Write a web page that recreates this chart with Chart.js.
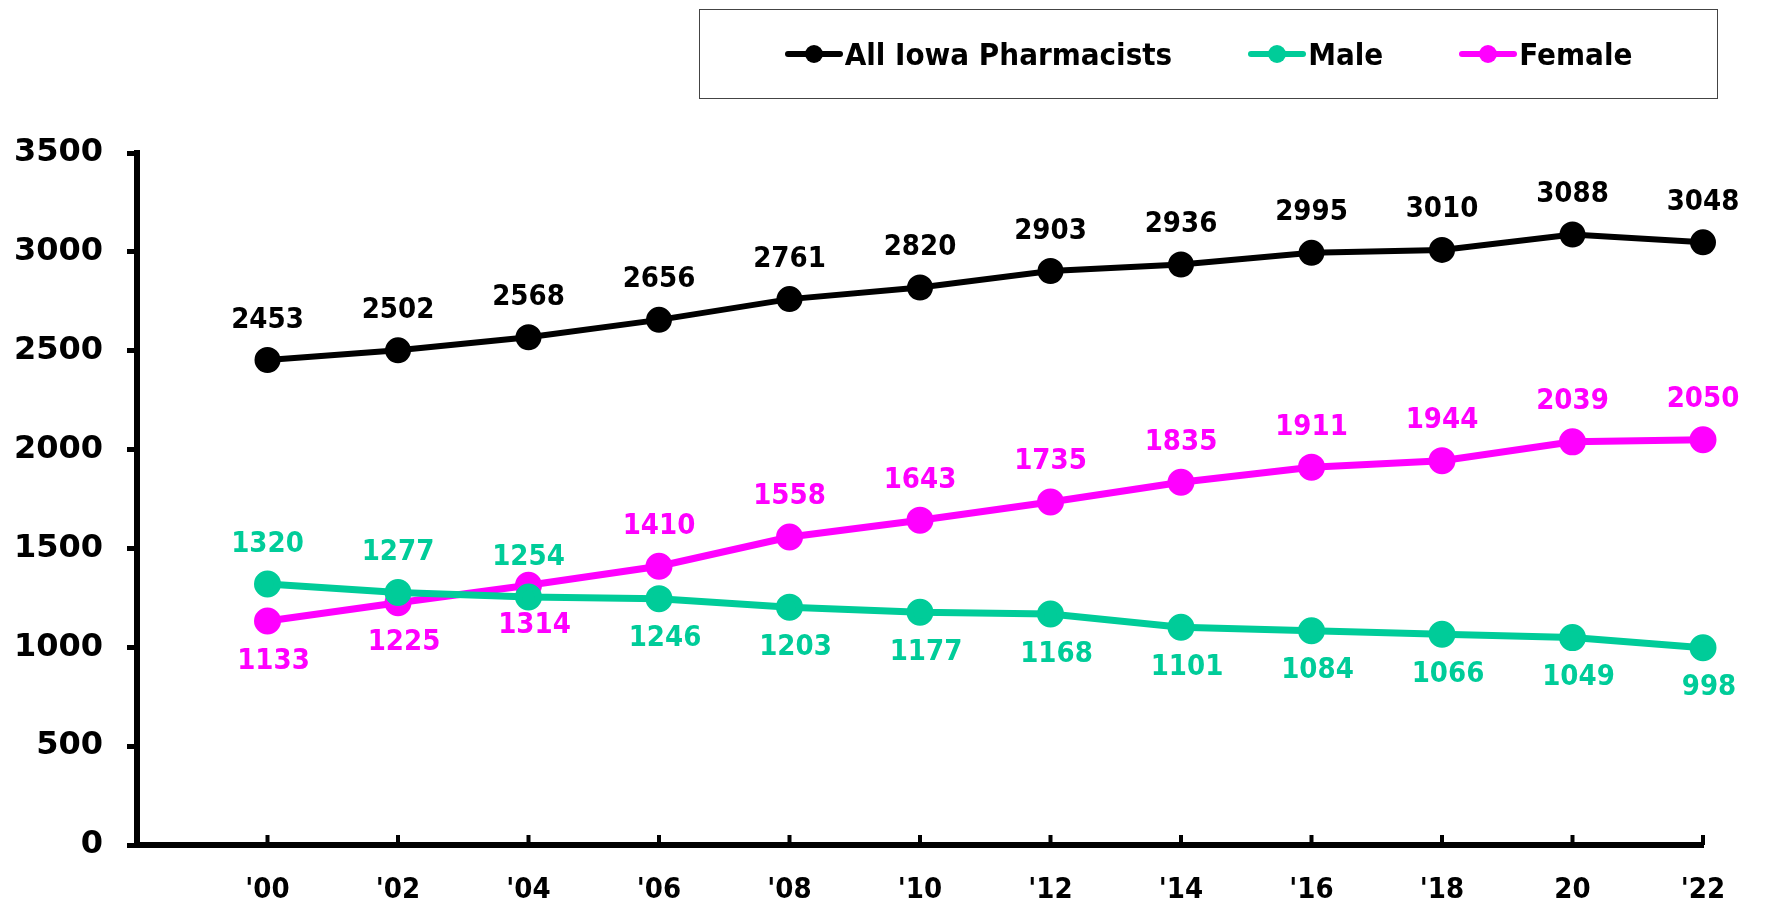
<!DOCTYPE html>
<html>
<head>
<meta charset="utf-8">
<script src="https://cdn.jsdelivr.net/npm/chart.js@4.4.0/dist/chart.umd.min.js"></script>
<style>
    html, body { margin: 0; padding: 0; background: #fff; }
    #wrap { position: relative; width: 1765px; height: 901px; }
    #legend {
        position: absolute; left: 699px; top: 9px; width: 1017px; height: 88px;
        border: 1px solid #444; display: flex; align-items: center; justify-content: center;
        font-family: "DejaVu Sans Condensed", "DejaVu Sans", sans-serif; font-weight: bold; font-size: 31px;
    }
    .item { display: flex; align-items: center; margin: 0 38px; }
    .mark { position: relative; width: 58px; height: 20px; margin-right: 2px; }
    .mark .ln { position: absolute; left: 0; right: 0; top: 7px; height: 6px; border-radius: 3px; }
    .mark .dot { position: absolute; left: 20px; top: 1px; width: 18px; height: 18px; border-radius: 50%; }
</style>
</head>
<body>
<div id="wrap">
    <canvas id="chart" width="1765" height="901"></canvas>
    <div id="legend"></div>
</div>
<script>
const years = ['', "'00", "'02", "'04", "'06", "'08", "'10", "'12", "'14", "'16", "'18", "20", "'22"];
const allPharmacists = [null, 2453, 2502, 2568, 2656, 2761, 2820, 2903, 2936, 2995, 3010, 3088, 3048];
const male = [null, 1320, 1277, 1254, 1246, 1203, 1177, 1168, 1101, 1084, 1066, 1049, 998];
const female = [null, 1133, 1225, 1314, 1410, 1558, 1643, 1735, 1835, 1911, 1944, 2039, 2050];
const yTicks = [0, 500, 1000, 1500, 2000, 2500, 3000, 3500];

// which side of the point each series' value labels go ('up' / 'down')
const maleLabelSide = ['', 'up', 'up', 'up', 'down', 'down', 'down', 'down', 'down', 'down', 'down', 'down', 'down'];
const femaleLabelSide = ['', 'down', 'down', 'down', 'up', 'up', 'up', 'up', 'up', 'up', 'up', 'up', 'up'];

const GREEN = '#00CC99';
const PINK = '#FF00FF';
const labelFont = 'bold 29px "DejaVu Sans Condensed", "DejaVu Sans", sans-serif';

const valueLabels = {
    id: 'valueLabels',
    afterDatasetsDraw(chart) {
        const ctx = chart.ctx;
        ctx.save();
        ctx.font = labelFont;
        ctx.textAlign = 'center';
        ctx.textBaseline = 'middle';
        chart.data.datasets.forEach((ds, di) => {
            const meta = chart.getDatasetMeta(di);
            meta.data.forEach((pt, i) => {
                const v = ds.data[i];
                if (v == null) return;
                let above = true;
                if (di === 1) above = maleLabelSide[i] === 'up';
                if (di === 2) above = femaleLabelSide[i] === 'up';
                ctx.fillStyle = ds.borderColor;
                ctx.fillText(String(v), pt.x + (above ? 0 : 6), pt.y + (above ? -40 : 40));
            });
        });
        ctx.restore();
    }
};

// x-axis tick marks point up into the plot
const innerTicks = {
    id: 'innerTicks',
    afterDraw(chart) {
        const x = chart.scales.x;
        const ctx = chart.ctx;
        ctx.save();
        ctx.strokeStyle = '#000';
        ctx.lineWidth = 4;
        for (let i = 1; i < x.ticks.length; i++) {
            const px = x.getPixelForTick(i);
            ctx.beginPath();
            ctx.moveTo(px, x.top);
            ctx.lineTo(px, x.top - 10);
            ctx.stroke();
        }
        ctx.restore();
    }
};

const chart = new Chart(document.getElementById('chart').getContext('2d'), {
    type: 'line',
    data: {
        labels: years,
        datasets: [
            { label: 'All Iowa Pharmacists', data: allPharmacists, borderColor: '#000000', backgroundColor: '#000000', borderWidth: 6, pointRadius: 10 },
            { label: 'Male', data: male, borderColor: GREEN, backgroundColor: GREEN, borderWidth: 7, pointRadius: 10 },
            { label: 'Female', data: female, borderColor: PINK, backgroundColor: PINK, borderWidth: 7, pointRadius: 10 }
        ]
    },
    options: {
        responsive: false,
        animation: false,
        layout: { padding: { top: 153, right: 62, left: 0, bottom: 0 } },
        plugins: { legend: { display: false }, tooltip: { enabled: false } },
        scales: {
            x: {
                offset: false,
                grid: { display: false, drawTicks: false },
                border: { display: true, color: '#000', width: 6 },
                ticks: { color: '#000', padding: 28, maxRotation: 0, autoSkip: false,
                         font: { family: '"DejaVu Sans Condensed", "DejaVu Sans", sans-serif', weight: 'bold', size: 29 } },
                afterFit(scale) { scale.height = 56; }
            },
            y: {
                min: 0, max: 3500,
                afterBuildTicks(scale) { scale.ticks = yTicks.map(v => ({ value: v })); },
                grid: { drawOnChartArea: false, drawTicks: true, tickLength: 10, tickWidth: 5, tickColor: '#000' },
                border: { display: true, color: '#000', width: 6 },
                ticks: { color: '#000', padding: 24, callback: v => String(v),
                         font: { family: '"DejaVu Sans", sans-serif', weight: 'bold', size: 32 } },
                afterFit(scale) { scale.width = 137; }
            }
        }
    },
    plugins: [valueLabels, innerTicks]
});

// html legend built from the datasets
const legend = document.getElementById('legend');
chart.data.datasets.forEach(ds => {
    const item = document.createElement('div');
    item.className = 'item';
    item.innerHTML = '<span class="mark"><span class="ln" style="background:' + ds.borderColor + '"></span>' +
        '<span class="dot" style="background:' + ds.borderColor + '"></span></span><span>' + ds.label + '</span>';
    legend.appendChild(item);
});
</script>
</body>
</html>
